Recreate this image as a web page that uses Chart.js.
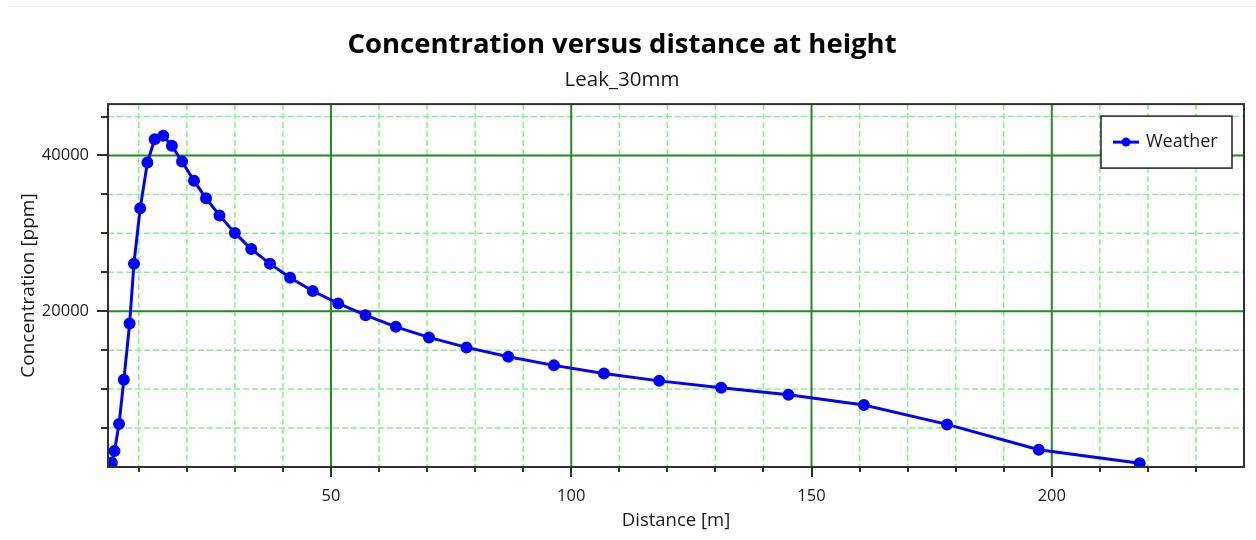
<!DOCTYPE html>
<html>
<head>
<meta charset="utf-8">
<script src="https://cdn.jsdelivr.net/npm/chart.js@4/dist/chart.umd.min.js"></script>
<style>
  body { margin: 0; background: #fff; }
  #wrap { position: relative; width: 1256px; height: 540px; }
  #topline { position: absolute; left: 7px; right: 0; top: 6px; height: 1px; background: #ededed; }
</style>
</head>
<body>
<div id="wrap">
  <div id="topline"></div>
  <canvas id="myChart" width="1256" height="540"></canvas>
</div>
<script>
// distance [m] and concentration [ppm]
const distance = [4.4, 4.95, 5.9, 6.9, 8.1, 9.0, 10.3, 11.8, 13.3, 15.1, 16.9, 19.0, 21.5, 24.0, 26.8, 30.0,
  33.4, 37.3, 41.5, 46.2, 51.5, 57.2, 63.5, 70.4, 78.2, 86.9, 96.4, 106.8, 118.3, 131.2, 145.2, 160.9,
  178.2, 197.3, 218.3];
const concentration = [550, 2050, 5510, 11190, 18420, 26110, 33240, 39100, 42090, 42530, 41240, 39230,
  36750, 34510, 32310, 30060, 27980, 26110, 24300, 22600, 21000, 19490, 18000, 16640, 15360, 14150,
  13050, 12020, 11060, 10170, 9270, 7950, 5470, 2220, 470];

const seriesName = 'Weather';

// tick positions: every value gets a tick mark + grid line, labelled ones get a solid line
const xTicks = [10, 20, 30, 40, 50, 60, 70, 80, 90, 100, 110, 120, 130, 140, 150, 160, 170, 180, 190, 200, 210, 220, 230];
const xLabelled = [50, 100, 150, 200];
const yTicks = [5000, 10000, 15000, 20000, 25000, 30000, 35000, 40000, 45000];
const yLabelled = [20000, 40000];

const fontFamily = '"Open Sans", "Noto Sans", sans-serif';

const gridPlugin = {
  id: 'winGrid',
  beforeDatasetsDraw(chart) { // dashed minor grid, solid major grid
    const { ctx, chartArea: a, scales: { x, y } } = chart;
    ctx.save();
    ctx.beginPath();
    ctx.rect(a.left, a.top, a.right - a.left, a.bottom - a.top);
    ctx.clip();
    const line = (x1, y1, x2, y2) => { ctx.beginPath(); ctx.moveTo(x1, y1); ctx.lineTo(x2, y2); ctx.stroke(); };

    ctx.strokeStyle = '#90ee90';
    ctx.lineWidth = 1.5;
    ctx.setLineDash([6, 3]);
    xTicks.filter(v => !xLabelled.includes(v)).forEach(v => { const p = x.getPixelForValue(v); line(p, a.top, p, a.bottom); });
    yTicks.filter(v => !yLabelled.includes(v)).forEach(v => { const p = y.getPixelForValue(v); line(a.left, p, a.right, p); });

    ctx.setLineDash([]);
    ctx.strokeStyle = '#228b22';
    ctx.lineWidth = 2;
    xLabelled.forEach(v => { const p = x.getPixelForValue(v); line(p, a.top, p, a.bottom); });
    yLabelled.forEach(v => { const p = y.getPixelForValue(v); line(a.left, p, a.right, p); });
    ctx.restore();
  },
  afterDatasetsDraw(chart) { // frame + outside tick marks
    const { ctx, chartArea: a, scales: { x, y } } = chart;
    ctx.save();
    ctx.strokeStyle = '#303030';
    ctx.lineWidth = 2;
    ctx.strokeRect(a.left, a.top, a.right - a.left, a.bottom - a.top);
    ctx.beginPath();
    xTicks.forEach(v => {
      const p = Math.round(x.getPixelForValue(v));
      ctx.moveTo(p, a.bottom);
      ctx.lineTo(p, a.bottom + (xLabelled.includes(v) ? 10 : 5));
    });
    yTicks.forEach(v => {
      const p = Math.round(y.getPixelForValue(v));
      ctx.moveTo(a.left, p);
      ctx.lineTo(a.left - (yLabelled.includes(v) ? 11 : 7), p);
    });
    ctx.stroke();
    ctx.restore();
  },
  afterDraw(chart) { // boxed legend inside the plot, top right
    const { ctx, chartArea: a } = chart;
    const ds = chart.data.datasets[0];
    const w = 131, h = 52;
    const lx = a.right - 12 - w, ly = a.top + 12;
    ctx.save();
    ctx.fillStyle = '#fff';
    ctx.fillRect(lx, ly, w, h);
    ctx.strokeStyle = '#202020';
    ctx.lineWidth = 1.5;
    ctx.strokeRect(lx, ly, w, h);
    const cy = ly + h / 2;
    ctx.strokeStyle = ds.borderColor;
    ctx.lineWidth = 3;
    ctx.beginPath();
    ctx.moveTo(lx + 12, cy);
    ctx.lineTo(lx + 38, cy);
    ctx.stroke();
    ctx.fillStyle = ds.borderColor;
    ctx.beginPath();
    ctx.arc(lx + 25, cy, 4.5, 0, Math.PI * 2);
    ctx.fill();
    ctx.fillStyle = '#1a1a1a';
    ctx.font = '18px ' + fontFamily;
    ctx.textBaseline = 'middle';
    ctx.fillText(ds.label, lx + 45, cy);
    ctx.restore();
  }
};

const ctx = document.getElementById('myChart').getContext('2d');
new Chart(ctx, {
  type: 'line',
  data: {
    datasets: [{
      label: seriesName,
      data: distance.map((d, i) => ({ x: d, y: concentration[i] })),
      borderColor: '#0000ff',
      backgroundColor: '#0000ff',
      borderWidth: 3,
      pointRadius: 4.5,
      pointHoverRadius: 4.5,
      tension: 0,
      fill: false
    }]
  },
  options: {
    responsive: false,
    animation: false,
    devicePixelRatio: 1,
    layout: { padding: { left: 0, right: 12, top: 0, bottom: 0 } },
    plugins: {
      legend: { display: false },
      tooltip: { enabled: false },
      title: {
        display: true,
        text: 'Concentration versus distance at height',
        color: '#000',
        font: { family: fontFamily, size: 27.5, weight: 'bold' },
        padding: { top: 28.5, bottom: 6 }
      },
      subtitle: {
        display: true,
        text: 'Leak_30mm',
        color: '#1a1a1a',
        font: { family: fontFamily, size: 20.5 },
        padding: { top: 0, bottom: 12 }
      }
    },
    scales: {
      x: {
        type: 'linear',
        min: 3.6,
        max: 240,
        afterBuildTicks: s => { s.ticks = xTicks.map(v => ({ value: v })); },
        afterFit: s => { s.height = 73; },
        grid: { drawOnChartArea: false, drawTicks: false },
        border: { display: false },
        ticks: {
          autoSkip: false,
          maxRotation: 0,
          padding: 19,
          color: '#1a1a1a',
          font: { family: fontFamily, size: 16.5 },
          callback: v => xLabelled.includes(v) ? String(v) : ''
        },
        title: {
          display: true,
          text: 'Distance [m]',
          color: '#1a1a1a',
          font: { family: fontFamily, size: 18.5 },
          padding: { top: 0, bottom: 7.9 }
        }
      },
      y: {
        type: 'linear',
        min: 0,
        max: 46600,
        afterBuildTicks: s => { s.ticks = yTicks.map(v => ({ value: v })); },
        afterFit: s => { s.width = 108; },
        grid: { drawOnChartArea: false, drawTicks: false },
        border: { display: false },
        ticks: {
          autoSkip: false,
          padding: 19,
          color: '#1a1a1a',
          font: { family: fontFamily, size: 16.5 },
          callback: v => yLabelled.includes(v) ? String(v) : ''
        },
        title: {
          display: true,
          text: 'Concentration [ppm]',
          color: '#1a1a1a',
          font: { family: fontFamily, size: 19 },
          padding: { top: 17.6, bottom: 0 }
        }
      }
    }
  },
  plugins: [gridPlugin]
});
</script>
</body>
</html>
